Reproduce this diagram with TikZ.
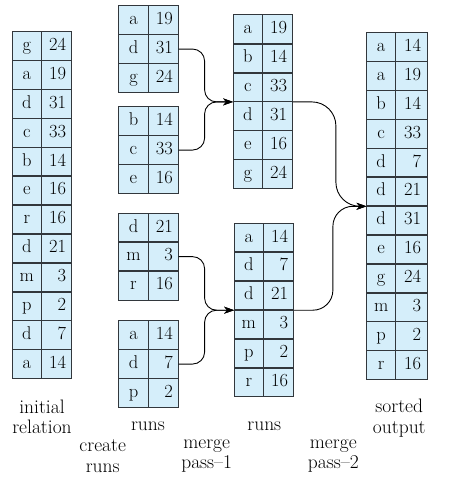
\documentclass[tikz,border=0pt]{standalone}
\usetikzlibrary{arrows.meta}
\definecolor{cellfill}{RGB}{213,238,250}
\definecolor{cellline}{RGB}{50,55,60}
\tikzset{
  cell/.style={fill=cellfill, minimum height=28.9pt, inner sep=0pt,
    text height=12.5pt, text depth=4pt, font=\fontsize{18.5}{21}\selectfont},
  lcell/.style={cell, minimum width=29pt},
  rcell/.style={cell, text width=19pt, align=right},
  border/.style={draw=cellline, line width=1.1pt},
  lbl/.style={align=center, inner sep=0pt, font=\fontsize{19.5}{20.5}\selectfont},
  conn/.style={-{Stealth[length=10pt,width=7pt,inset=3pt]}, line width=0.9pt, black},
}
\newcommand\mktable[5]{%
  \foreach[count=\i] \a/\b in {#5}{
    \node[lcell] (#1-\i-l) at ({#2+14.5},{#3+(\i-0.5)*28.9}) {\a};
    \node[rcell, minimum width=#4pt, anchor=west] (#1-\i-r) at (#1-\i-l.east) {\b};
  }
  \foreach[count=\i] \a/\b in {#5}{
    \draw[border] (#1-\i-l.north west) rectangle (#1-\i-l.south east)
                  (#1-\i-r.north west) rectangle (#1-\i-r.south east);
  }
}
\begin{document}
\begin{tikzpicture}[x=1pt,y=-1pt]
\useasboundingbox (0,0) rectangle (464,490);
\mktable{init}{12.3}{31.7}{30}{g/24,a/19,d/31,c/33,b/14,e/16,r/16,d/21,m/3,p/2,d/7,a/14}
\mktable{ra}{119}{5.7}{30}{a/19,d/31,g/24}
\mktable{rb}{119}{106.7}{30}{b/14,c/33,e/16}
\mktable{rc}{119}{213.3}{30}{d/21,m/3,r/16}
\mktable{rd}{119}{320.7}{30}{a/14,d/7,p/2}
\mktable{ma}{233.3}{15}{30}{a/19,b/14,c/33,d/31,e/16,g/24}
\mktable{mb}{234.3}{223.3}{30}{a/14,d/7,d/21,m/3,p/2,r/16}
\mktable{out}{366.7}{32.7}{31}{a/14,a/19,b/14,c/33,d/7,d/21,d/31,e/16,g/24,m/3,p/2,r/16}

\draw[conn, rounded corners=12pt] (ra-2-r.east) -- ++(26,0) |- (ma-3-l.south west);
\draw[conn, rounded corners=12pt] (rb-2-r.east) -- ++(26,0) |- (ma-3-l.south west);
\draw[conn, rounded corners=12pt] (rc-2-r.east) -- ++(26,0) |- (mb-3-l.south west);
\draw[conn, rounded corners=12pt] (rd-2-r.east) -- ++(26,0) |- (mb-3-l.south west);
\draw[conn, rounded corners=24pt] (ma-3-r.south east) -- ++(43,0) |- (out-6-l.south west);
\draw[conn, rounded corners=20pt] (mb-3-r.south east) -- ++(39,0) |- (out-6-l.south west);

\node[lbl] (lab-init) at (42,417) {initial\\relation};
\node[lbl] (lab-runs1) at (148,426.7) {runs};
\node[lbl] (lab-create) at (102.7,456.2) {create\\runs};
\node[lbl] (lab-m1) at (206.7,456.2) {merge\\pass--1};
\node[lbl] (lab-runs2) at (264.3,426.7) {runs};
\node[lbl] (lab-m2) at (333.3,456.2) {merge\\pass--2};
\node[lbl] (lab-out) at (399.3,418.3) {sorted\\output};
\end{tikzpicture}
\end{document}
